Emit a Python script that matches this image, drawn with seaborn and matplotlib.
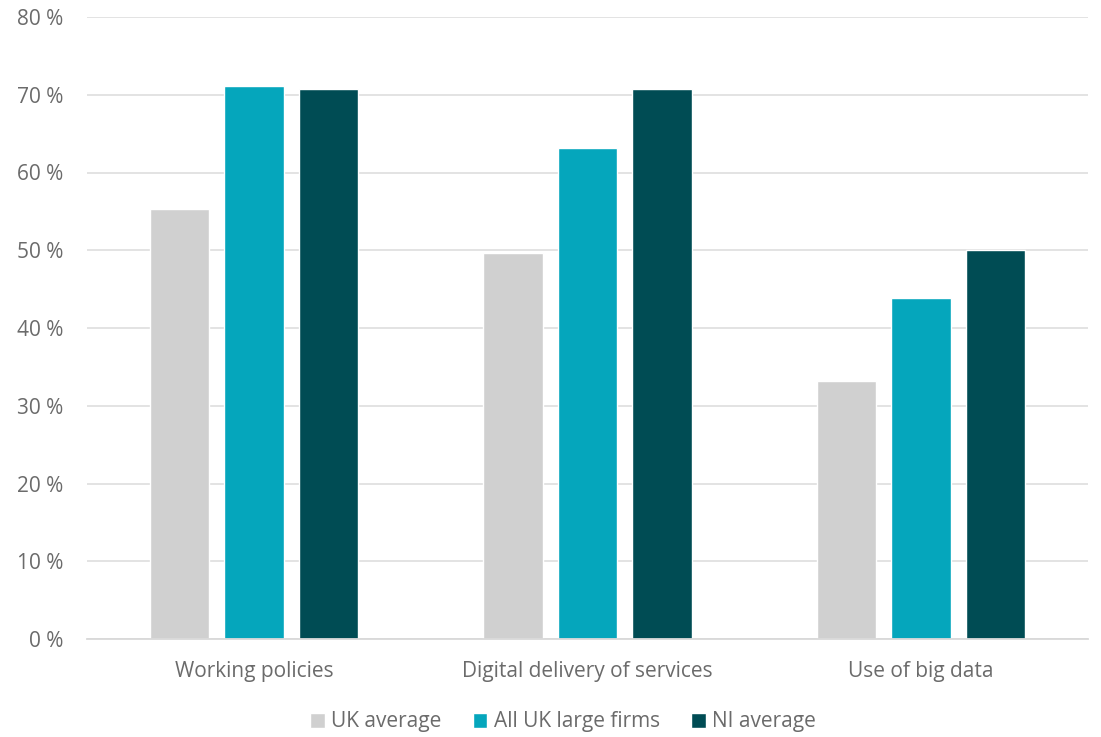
import matplotlib
matplotlib.use("Agg")
import matplotlib.pyplot as plt
import seaborn as sns
import pandas as pd
from matplotlib.ticker import FuncFormatter

categories = ["Working policies", "Digital delivery of services", "Use of big data"]
series = ["UK average", "All UK large firms", "NI average"]
uk_average = [55.3, 49.6, 33.2]
all_uk_large = [71.1, 63.1, 43.8]
ni_average = [70.8, 70.8, 50.0]
colors = ["#D0D0D0", "#05A6BC", "#004C54"]

rows = []
for s, vals in zip(series, [uk_average, all_uk_large, ni_average]):
    for c, v in zip(categories, vals):
        rows.append({"category": c, "series": s, "value": v})
df = pd.DataFrame(rows)

sns.set_style("white")
plt.rcParams["font.family"] = ["Open Sans", "DejaVu Sans"]
text_color = "#6B6B6B"

fig = plt.figure(figsize=(11.01, 7.37), dpi=100)
ax = fig.add_axes([87/1101, 1-639/737, (1088-87)/1101, (639-17)/737])

sns.barplot(data=df, x="category", y="value", hue="series", order=categories,
            hue_order=series, palette=colors, width=0.67, gap=0.2,
            saturation=1, ax=ax, legend=True)

ax.set_ylim(0, 80)
ax.set_xlim(-0.5, 2.5)
ax.set_yticks(range(0, 81, 10))
ax.yaxis.set_major_formatter(FuncFormatter(lambda v, p: f"{int(v)} %"))
ax.grid(axis="y", color="#E0E0E0", linewidth=1.3)
ax.set_axisbelow(True)
for side in ["top", "right", "left"]:
    ax.spines[side].set_visible(False)
ax.spines["bottom"].set_color("#D9D9D9")
ax.spines["bottom"].set_linewidth(1.3)
ax.tick_params(axis="both", length=0, labelsize=15, colors=text_color)
ax.tick_params(axis="y", pad=17)
ax.tick_params(axis="x", pad=16)
ax.set_xlabel("")
ax.set_ylabel("")

handles, labels = ax.get_legend_handles_labels()
ax.get_legend().remove()
fig.legend(handles, labels, loc="center", bbox_to_anchor=(563/1101, 1-722/737), ncol=3,
           frameon=False, fontsize=15, labelcolor=text_color, handlelength=0.7,
           handleheight=0.7, handletextpad=0.3, columnspacing=1.5)

fig.savefig("out.png", dpi=100)
